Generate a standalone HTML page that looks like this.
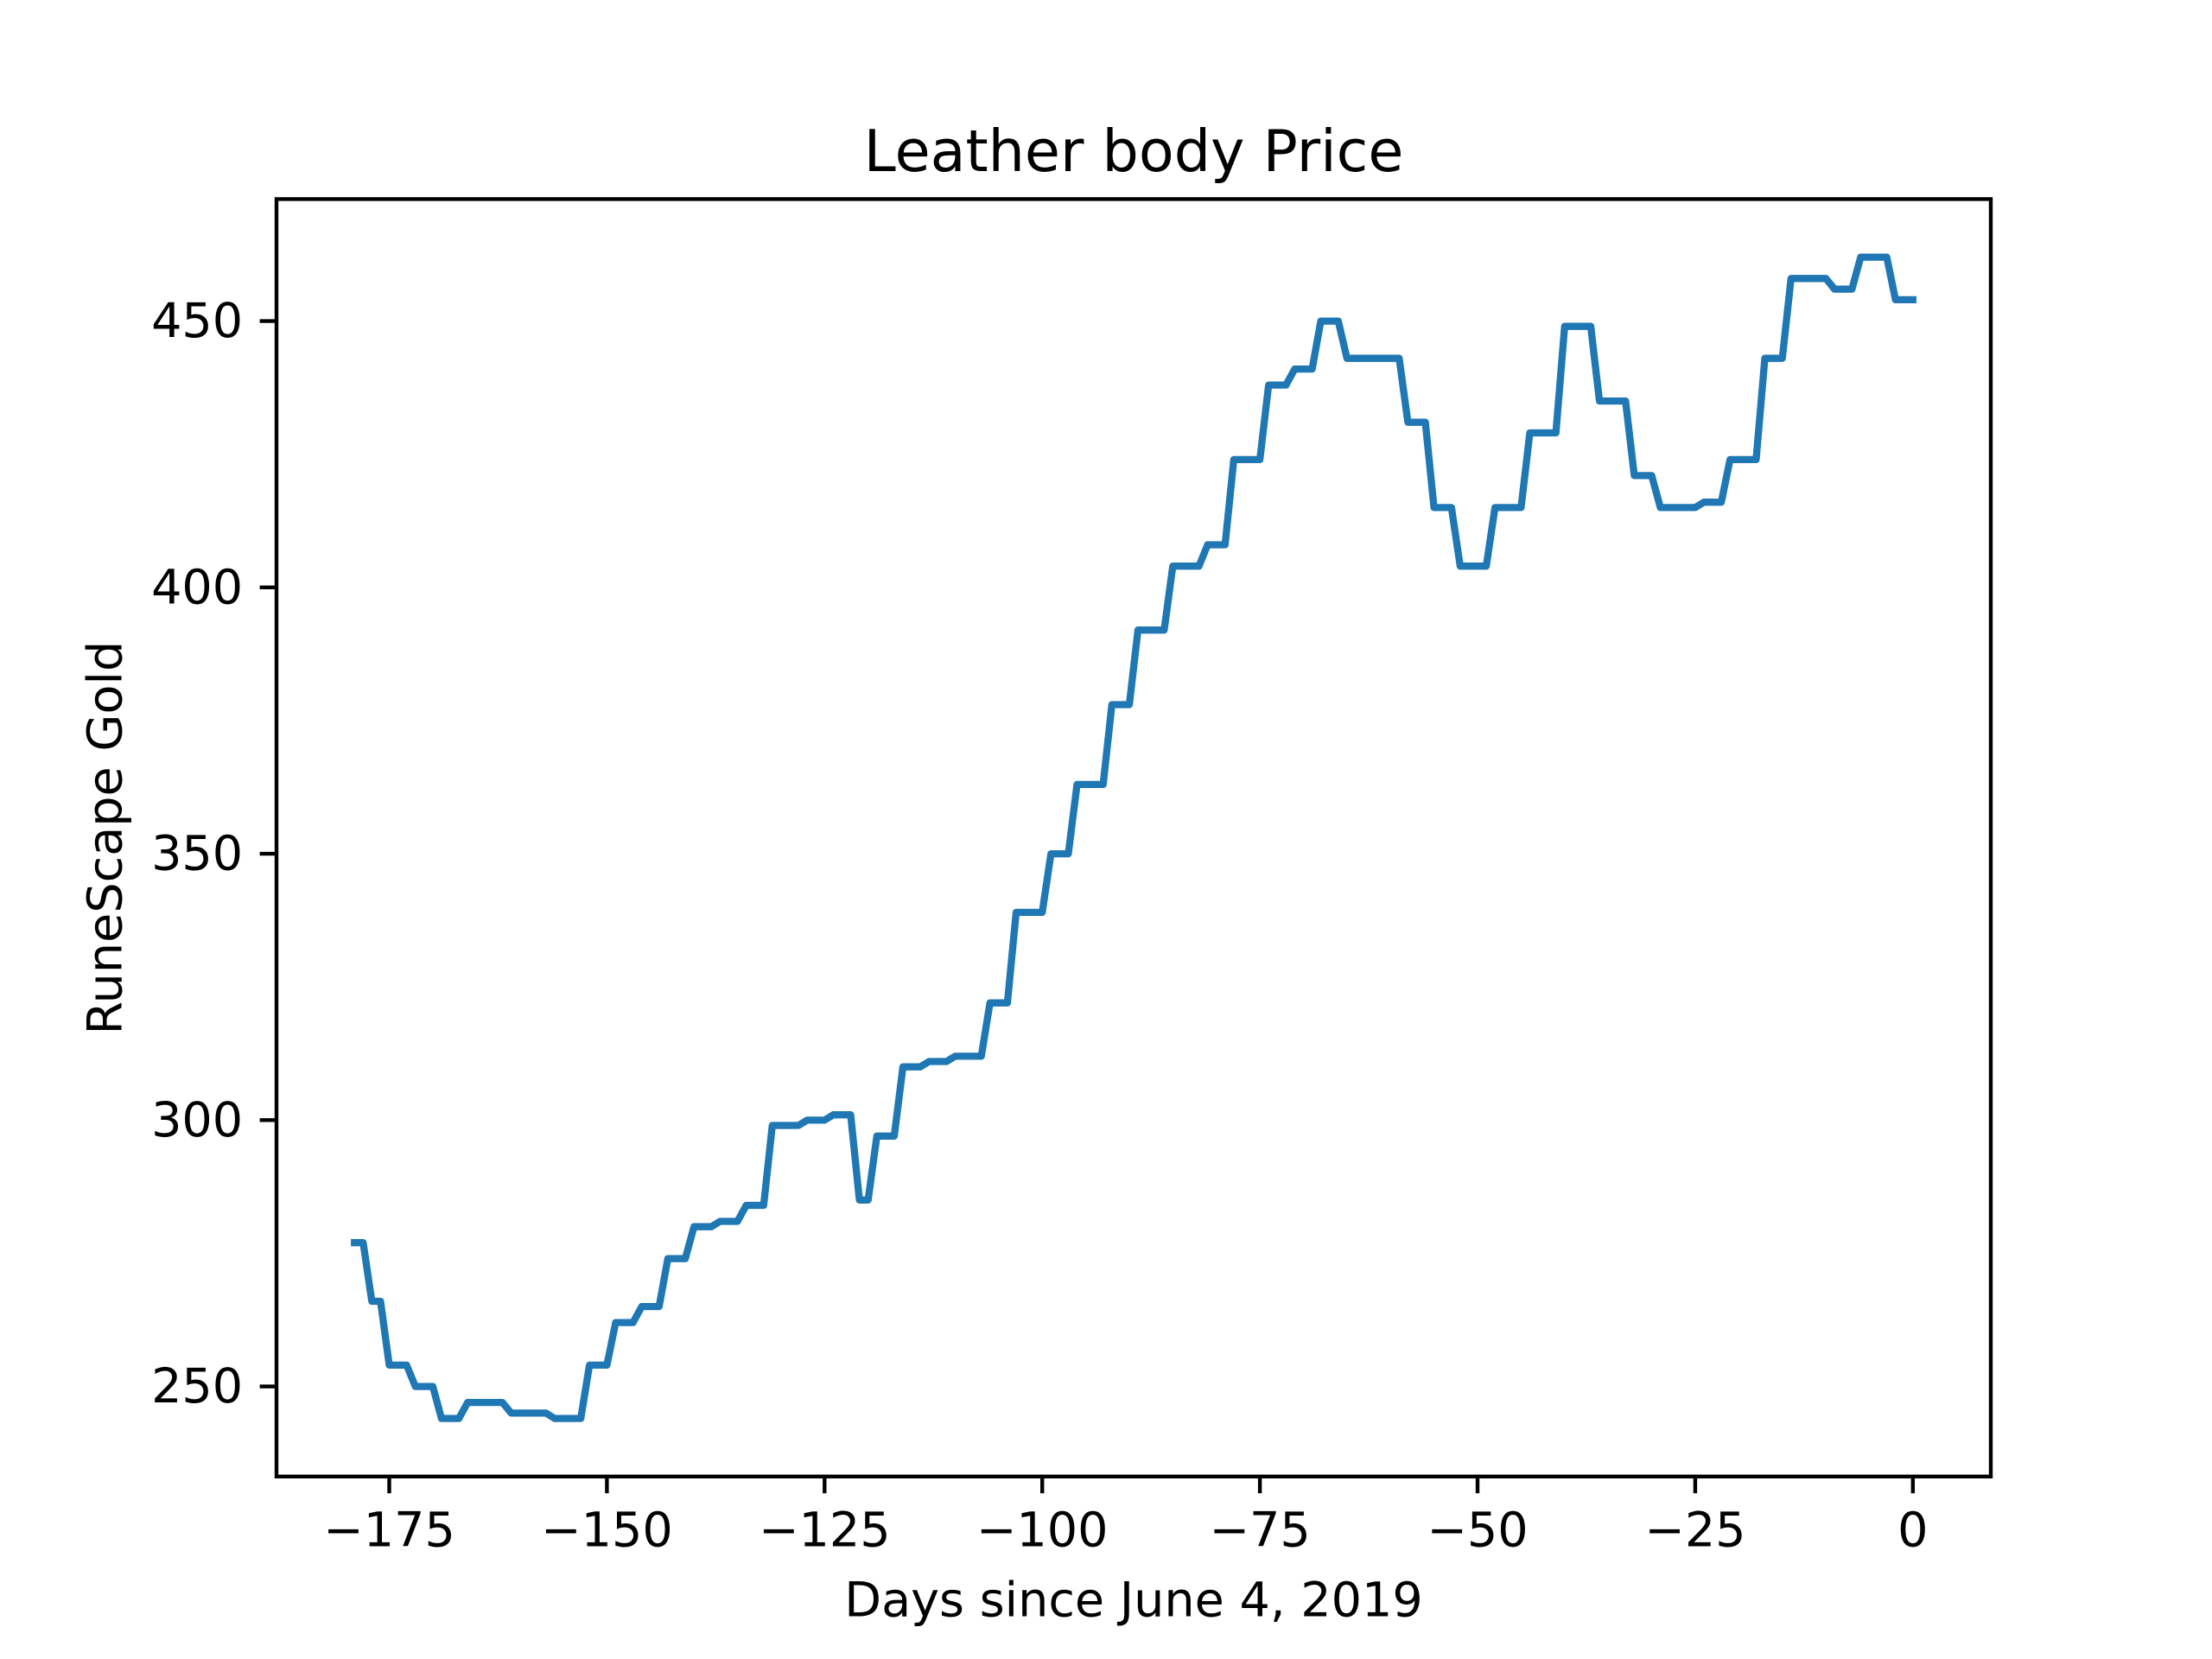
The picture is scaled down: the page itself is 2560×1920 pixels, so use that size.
<!DOCTYPE html>
<html><head><meta charset="utf-8"><style>
html,body{margin:0;padding:0;background:#fff;}
svg{display:block;font-family:"DejaVu Sans","Liberation Sans",sans-serif;}
</style></head><body>
<svg id="chart" width="2560" height="1920" viewBox="0 0 2560 1920" xmlns="http://www.w3.org/2000/svg">
<rect x="0" y="0" width="2560" height="1920" fill="#fff"/>
<text x="1312" y="175" font-size="66.7" text-anchor="middle" dominant-baseline="central">Leather body Price</text>
<g id="plot"></g>
<rect x="320" y="230.4" width="1984" height="1478.4" fill="none" stroke="#000" stroke-width="4.4"/>
<text x="1312" y="1852" font-size="55.6" text-anchor="middle" dominant-baseline="central">Days since June 4, 2019</text>
<text x="122" y="969.6" font-size="55.6" text-anchor="middle" dominant-baseline="central" transform="rotate(-90 122 969.6)">RuneScape Gold</text>
</svg>
<script>
const days = [-179,-178,-177,-176,-175,-173,-172,-170,-169,-167,-166,-162,-161,-157,-156,-153,-152,-150,-149,-147,-146,-144,-143,-141,-140,-138,-137,-135,-134,-132,-131,-128,-127,-125,-124,-122,-121,-120,-119,-117,-116,-114,-113,-111,-110,-107,-106,-104,-103,-100,-99,-97,-96,-93,-92,-90,-89,-86,-85,-82,-81,-79,-78,-75,-74,-72,-71,-69,-68,-66,-65,-59,-58,-56,-55,-53,-52,-49,-48,-45,-44,-41,-40,-37,-36,-33,-32,-30,-29,-25,-24,-22,-21,-18,-17,-15,-14,-10,-9,-7,-6,-3,-2,0];
const prices = [277,277,266,266,254,254,250,250,244,244,247,247,245,245,244,244,254,254,262,262,265,265,274,274,280,280,281,281,284,284,299,299,300,300,301,301,285,285,297,297,310,310,311,311,312,312,322,322,339,339,350,350,363,363,378,378,392,392,404,404,408,408,424,424,438,438,441,441,450,450,443,443,431,431,415,415,404,404,415,415,429,429,449,449,435,435,421,421,415,415,416,416,424,424,443,443,458,458,456,456,462,462,454,454];
const xTicks = [-175,-150,-125,-100,-75,-50,-25,0];
const yTicks = [250,300,350,400,450];

const NS = "http://www.w3.org/2000/svg";
const L=320,R=2304,T=230.4,B=1708.8;
const dMin=Math.min(...days),dMax=Math.max(...days),pMin=Math.min(...prices),pMax=Math.max(...prices);
const xlo=dMin-(dMax-dMin)*0.05,xhi=dMax+(dMax-dMin)*0.05;
const ylo=pMin-(pMax-pMin)*0.05,yhi=pMax+(pMax-pMin)*0.05;
const sx=d=>L+(d-xlo)/(xhi-xlo)*(R-L);
const sy=v=>B-(v-ylo)/(yhi-ylo)*(B-T);
const svg=document.getElementById('chart');
const plot=document.getElementById('plot');
const fmt=n=>n<0?"\u2212"+Math.abs(n):String(n);

const line=document.createElementNS(NS,'polyline');
line.setAttribute('points',days.map((d,i)=>sx(d).toFixed(1)+","+sy(prices[i]).toFixed(1)).join(" "));
line.setAttribute('fill','none');line.setAttribute('stroke','#1f77b4');
line.setAttribute('stroke-width','8.3');line.setAttribute('stroke-linejoin','round');line.setAttribute('stroke-linecap','square');


plot.appendChild(line);

xTicks.forEach(t=>{
  const x=sx(t);
  const tk=document.createElementNS(NS,'line');
  tk.setAttribute('x1',x);tk.setAttribute('x2',x);tk.setAttribute('y1',B);tk.setAttribute('y2',B+19.4);
  tk.setAttribute('stroke','#000');tk.setAttribute('stroke-width','4.4');
  
  
  svg.appendChild(tk);
  const tx=document.createElementNS(NS,'text');
  tx.setAttribute('x',x);tx.setAttribute('y',B+38.8+42);tx.setAttribute('font-size','55.6');tx.setAttribute('text-anchor','middle');
  tx.textContent=fmt(t);
  
  
  svg.appendChild(tx);
});
yTicks.forEach(t=>{
  const y=sy(t);
  const tk=document.createElementNS(NS,'line');
  tk.setAttribute('x1',L-19.4);tk.setAttribute('x2',L);tk.setAttribute('y1',y);tk.setAttribute('y2',y);
  tk.setAttribute('stroke','#000');tk.setAttribute('stroke-width','4.4');
  
  
  svg.appendChild(tk);
  const tx=document.createElementNS(NS,'text');
  tx.setAttribute('x',L-38.8);tx.setAttribute('y',y);tx.setAttribute('font-size','55.6');tx.setAttribute('text-anchor','end');tx.setAttribute('dominant-baseline','central');
  tx.textContent=fmt(t);
  
  
  svg.appendChild(tx);
});
</script>
</body></html>
